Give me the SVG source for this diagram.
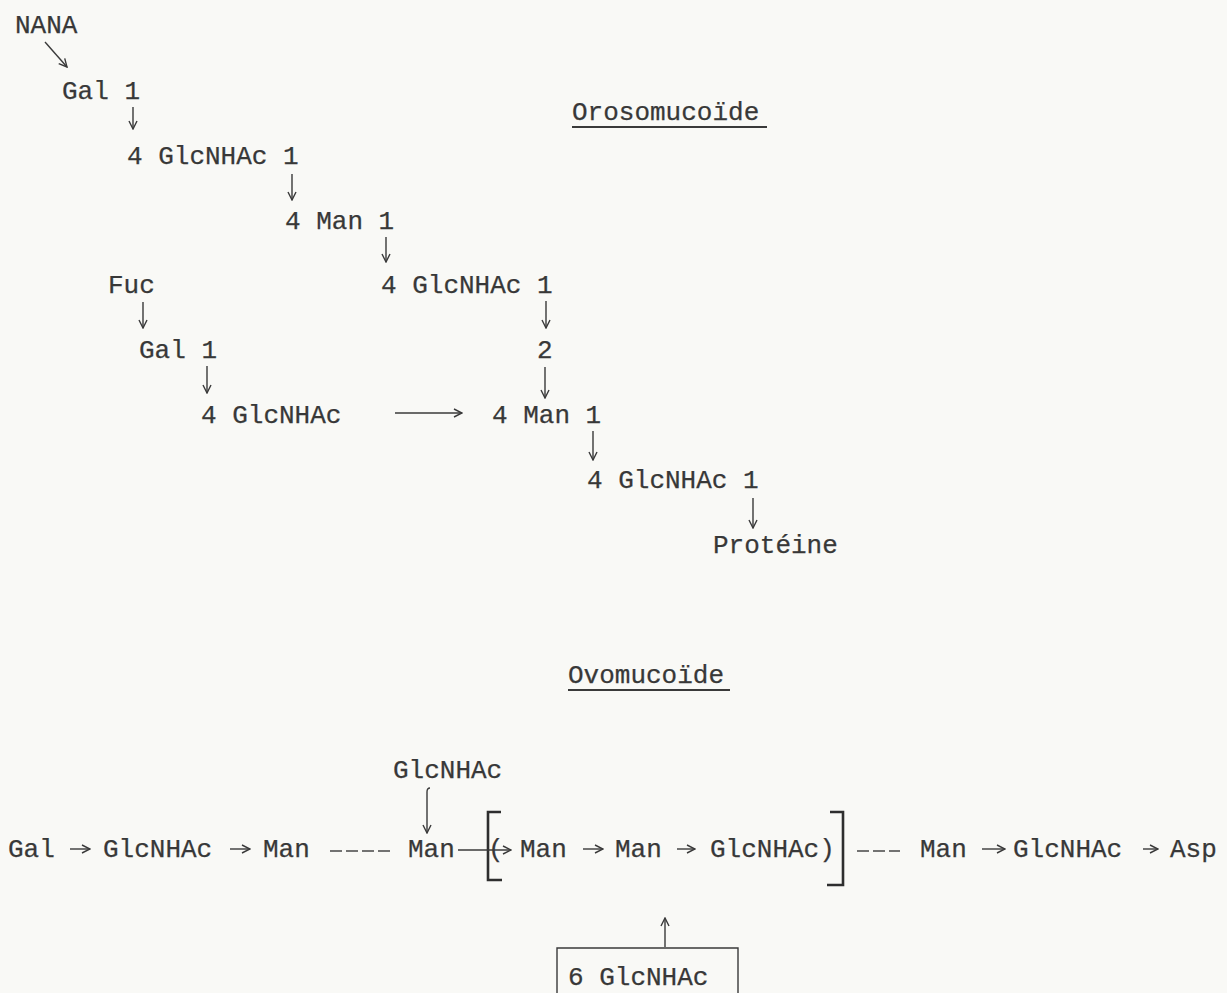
<svg xmlns="http://www.w3.org/2000/svg" width="1227" height="993" viewBox="0 0 1227 993">
<defs>
<style>
text{font-family:"Liberation Mono","Courier New",monospace;font-size:26px;fill:#383838;stroke:#383838;stroke-width:0.25}
.ln{stroke:#3a3a3a;stroke-width:1.4;fill:none}
.ul{stroke:#3a3a3a;stroke-width:2.2;fill:none}
.br{stroke:#2e2e2e;stroke-width:2.6;fill:none}
</style>
<marker id="ah" viewBox="0 0 10 10" refX="9" refY="5" markerWidth="10" markerHeight="10" markerUnits="userSpaceOnUse" orient="auto">
<path d="M1,1 L9,5 L1,9" fill="none" stroke="#3a3a3a" stroke-width="1.4"/>
</marker>
</defs>
<rect width="1227" height="993" fill="#f9f9f6"/>

<!-- Orosomucoide -->
<g id="title-orosomucoide"><text x="572" y="120">Orosomucoïde</text><line class="ul" x1="572" y1="127" x2="767" y2="127"/></g>
<g id="n-nana"><text x="15" y="33">NANA</text></g>
<g id="n-gal1"><text x="62" y="99">Gal 1</text></g>
<g id="n-glc1"><text x="127" y="164">4 GlcNHAc 1</text></g>
<g id="n-man1"><text x="285" y="229">4 Man 1</text></g>
<g id="n-glc2"><text x="381" y="293">4 GlcNHAc 1</text></g>
<g id="n-fuc"><text x="108" y="293">Fuc</text></g>
<g id="n-gal2"><text x="139" y="358">Gal 1</text></g>
<g id="n-link2"><text x="537" y="358">2</text></g>
<g id="n-glc3"><text x="201" y="423">4 GlcNHAc</text></g>
<g id="n-man2"><text x="492" y="423">4 Man 1</text></g>
<g id="n-glc4"><text x="587" y="488">4 GlcNHAc 1</text></g>
<g id="n-proteine"><text x="713" y="553">Protéine</text></g>

<!-- Ovomucoide -->
<g id="title-ovomucoide"><text x="568" y="683">Ovomucoïde</text><line class="ul" x1="568" y1="690" x2="730" y2="690"/></g>
<g id="n-glc-top"><text x="393" y="778">GlcNHAc</text></g>
<g id="n-gal-b"><text x="8" y="857">Gal</text></g>
<g id="n-glc-b1"><text x="103" y="857">GlcNHAc</text></g>
<g id="n-man-b1"><text x="263" y="857">Man</text></g>
<g id="n-man-b2"><text x="408" y="857">Man</text></g>
<g id="n-repeat">
<path class="br" d="M501,812 H488 V880 H502"/>
<path class="br" d="M830,812 H843 V885 H827"/>
<text x="488" y="857">(</text>
<text x="520" y="857">Man</text>
<text x="615" y="857">Man</text>
<text x="710" y="857">GlcNHAc)</text>
</g>
<g id="n-man-b3"><text x="920" y="857">Man</text></g>
<g id="n-glc-b2"><text x="1013" y="857">GlcNHAc</text></g>
<g id="n-asp"><text x="1170" y="857">Asp</text></g>
<g id="n-box"><path class="ln" d="M557,1000 V948 H738 V1000" stroke-width="1.8"/><text x="568" y="985">6 GlcNHAc</text></g>

<g id="connectors">
<line class="ln" x1="45" y1="42" x2="67" y2="67" marker-end="url(#ah)"/>
<line class="ln" x1="133" y1="107" x2="133" y2="129" marker-end="url(#ah)"/>
<line class="ln" x1="292" y1="174" x2="292" y2="200" marker-end="url(#ah)"/>
<line class="ln" x1="386" y1="237" x2="386" y2="262" marker-end="url(#ah)"/>
<line class="ln" x1="143" y1="302" x2="143" y2="328" marker-end="url(#ah)"/>
<line class="ln" x1="546" y1="301" x2="546" y2="328" marker-end="url(#ah)"/>
<line class="ln" x1="207" y1="366" x2="207" y2="393" marker-end="url(#ah)"/>
<line class="ln" x1="545" y1="367" x2="545" y2="398" marker-end="url(#ah)"/>
<line class="ln" x1="395" y1="413" x2="462" y2="413" marker-end="url(#ah)"/>
<line class="ln" x1="593" y1="431" x2="593" y2="460" marker-end="url(#ah)"/>
<line class="ln" x1="753" y1="498" x2="753" y2="528" marker-end="url(#ah)"/>

<path class="ln" d="M430,788 Q427,788 427,792 V833" marker-end="url(#ah)"/>
<line class="ln" x1="70" y1="849" x2="90" y2="849" marker-end="url(#ah)"/>
<line class="ln" x1="230" y1="849" x2="250" y2="849" marker-end="url(#ah)"/>
<line class="ln" x1="330" y1="851" x2="342" y2="851" stroke-width="2.4"/>
<line class="ln" x1="346" y1="851" x2="358" y2="851" stroke-width="2.4"/>
<line class="ln" x1="362" y1="851" x2="374" y2="851" stroke-width="2.4"/>
<line class="ln" x1="378" y1="851" x2="390" y2="851" stroke-width="2.4"/>
<line class="ln" x1="458" y1="850" x2="511" y2="850" marker-end="url(#ah)"/>
<line class="ln" x1="583" y1="849" x2="603" y2="849" marker-end="url(#ah)"/>
<line class="ln" x1="677" y1="849" x2="695" y2="849" marker-end="url(#ah)"/>
<line class="ln" x1="857" y1="851" x2="869" y2="851" stroke-width="2.4"/>
<line class="ln" x1="873" y1="851" x2="885" y2="851" stroke-width="2.4"/>
<line class="ln" x1="889" y1="851" x2="900" y2="851" stroke-width="2.4"/>
<line class="ln" x1="982" y1="849" x2="1005" y2="849" marker-end="url(#ah)"/>
<line class="ln" x1="1143" y1="849" x2="1158" y2="849" marker-end="url(#ah)"/>
<line class="ln" x1="665" y1="947" x2="665" y2="918" marker-end="url(#ah)"/>
</g>
</svg>
